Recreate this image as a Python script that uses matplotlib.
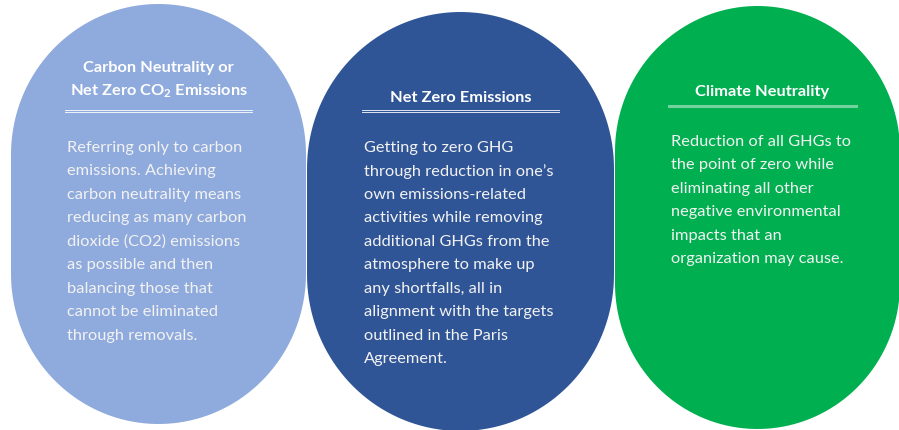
import matplotlib
matplotlib.use("Agg")
import matplotlib.pyplot as plt
from matplotlib.path import Path
from matplotlib.patches import PathPatch
import numpy as np

plt.rcParams['font.family'] = ['Lato', 'DejaVu Sans']
plt.rcParams['mathtext.fontset'] = 'custom'
plt.rcParams['mathtext.bf'] = 'Lato:bold'
plt.rcParams['mathtext.rm'] = 'Lato:bold'
plt.rcParams['mathtext.default'] = 'bf'

# content of the three boxes
titles = [
    ["Carbon Neutrality or", r"Net Zero CO$_2$ Emissions"],
    ["Net Zero Emissions"],
    ["Climate Neutrality"],
]
bodies = [
    ["Referring only to carbon", "emissions. Achieving", "carbon neutrality means",
     "reducing as many carbon", "dioxide (CO2) emissions", "as possible and then",
     "balancing those that", "cannot be eliminated", "through removals."],
    ["Getting to zero GHG", "through reduction in one\u2019s", "own emissions-related",
     "activities while removing", "additional GHGs from the", "atmosphere to make up",
     "any shortfalls, all in", "alignment with the targets", "outlined in the Paris",
     "Agreement."],
    ["Reduction of all GHGs to", "the point of zero while", "eliminating all other",
     "negative environmental", "impacts that an", "organization may cause."],
]
colors = ["#8FAADC", "#2F5597", "#00B050"]

# shape boxes: left, right, top, bottom (pixels)
boxes = [(11, 306, 5, 425), (307, 614, 13, 432), (615, 900, 7, 430)]
title_y = [(68, 91), (98,), (92,)]
rule_y = [112, 112, 107]
rule_x = [(65, 252), (362, 559), (669, 856)]
double_rule = [True, True, False]
body_x = [67, 364, 671]
body_y0 = [148, 148, 142]
line_h = 23.5


def stadium(l, r, t, b, ry):
    cx = (l + r) / 2
    a = (r - l) / 2
    th = np.linspace(np.pi, 2 * np.pi, 80)
    top = np.column_stack([cx + a * np.cos(th), t + ry + ry * np.sin(th)])
    th2 = np.linspace(0, np.pi, 80)
    bot = np.column_stack([cx + a * np.cos(th2), b - ry + ry * np.sin(th2)])
    pts = np.vstack([top, bot, top[:1]])
    return Path(pts)


fig = plt.figure(figsize=(8.99, 4.31), dpi=100)
ax = fig.add_axes([0, 0, 1, 1])
ax.set_xlim(0, 899)
ax.set_ylim(431, 0)
ax.axis('off')

for i in range(3):
    l, r, t, b = boxes[i]
    ax.add_patch(PathPatch(stadium(l, r, t, b, (r - l) / 2 * 1.02),
                           facecolor=colors[i], edgecolor='none'))

    for k, line in enumerate(titles[i]):
        ax.text((rule_x[i][0] + rule_x[i][1]) / 2, title_y[i][k], line,
                ha='center', va='center', color='white', fontsize=11.8,
                fontweight='bold')

    x0, x1 = rule_x[i]
    if double_rule[i]:
        ax.plot([x0, x1], [rule_y[i] - 1.2, rule_y[i] - 1.2], color='white', lw=0.7, alpha=0.85)
        ax.plot([x0, x1], [rule_y[i] + 1.2, rule_y[i] + 1.2], color='white', lw=0.7, alpha=0.85)
    else:
        ax.plot([x0, x1], [rule_y[i], rule_y[i]], color='white', lw=2.2, alpha=0.45)

    for k, line in enumerate(bodies[i]):
        ax.text(body_x[i], body_y0[i] + k * line_h, line, ha='left', va='center',
                color='#F2F2F2', fontsize=11.8)

fig.savefig("out.png", dpi=100)
